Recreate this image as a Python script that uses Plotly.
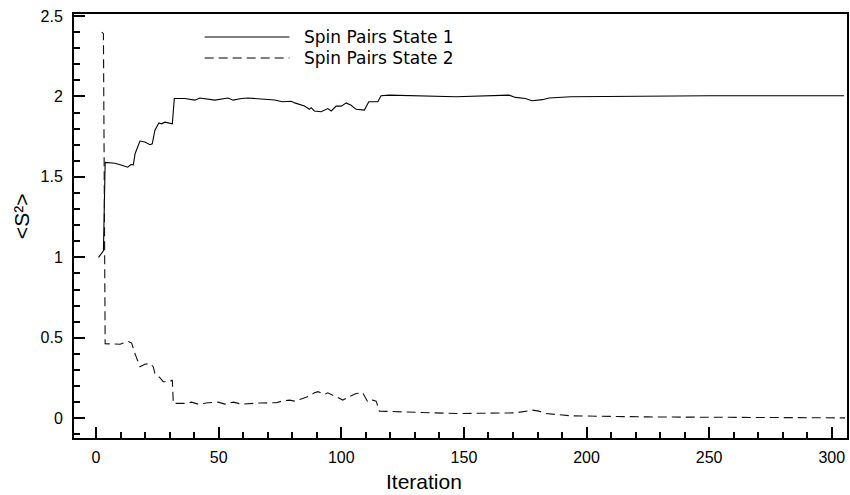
import plotly.graph_objects as go

# Series 1: Spin Pairs State 1 (solid)
iter_s1 = [1, 2, 3, 3.7, 7.7, 9.8, 11.8, 12.9, 14.2, 15.2, 15.9, 17.9, 19.9, 22, 22.9, 24,
           25.6, 26.7, 28.1, 29.7, 31.1, 31.9, 36.2, 40.3, 42.3, 48.4, 53.8, 55.9, 59.3, 62,
           66, 69, 72.8, 76, 79.6, 81, 85, 87, 87.7, 89, 91.8, 94.5, 95.9, 97.9, 100, 102,
           104, 106, 109.4, 111.2, 114.9, 116.2, 119.6, 146.7, 168.4, 171, 175, 177.8, 182,
           184.7, 193.5, 250, 305]
val_s1 = [1.0, 1.02, 1.04, 1.59, 1.585, 1.575, 1.565, 1.56, 1.577, 1.575, 1.644, 1.723,
          1.717, 1.70, 1.706, 1.79, 1.835, 1.83, 1.84, 1.835, 1.83, 1.9875, 1.9875, 1.977,
          1.99, 1.977, 1.99, 1.977, 1.9875, 1.99, 1.985, 1.98, 1.978, 1.967, 1.97, 1.96,
          1.94, 1.92, 1.93, 1.91, 1.905, 1.925, 1.91, 1.94, 1.94, 1.96, 1.945, 1.92, 1.915,
          1.967, 1.967, 2.004, 2.008, 1.998, 2.008, 1.994, 1.9875, 1.973, 1.98, 1.99, 1.998,
          2.004, 2.004]

# Series 2: Spin Pairs State 2 (dashed)
iter_s2 = [2.3, 3.0, 3.7, 9.8, 13.1, 14.5, 15.9, 17.2, 17.9, 19.9, 22, 23.3, 24, 26, 27.4,
           30.1, 31.1, 31.5, 36.2, 38.9, 41.6, 45.7, 49.8, 52.5, 55.9, 59.3, 62.7, 67, 73.5,
           76.2, 78.9, 81, 84.3, 87, 89, 90.5, 93.2, 94.5, 97.9, 100.6, 103.3, 106, 108.7,
           110.8, 112.8, 114.2, 115.5, 126.4, 133.2, 146.7, 171, 175.2, 177.9, 180.6, 183.4,
           193.5, 225, 305.4]
val_s2 = [2.40, 2.39, 0.4625, 0.46, 0.477, 0.467, 0.40, 0.342, 0.32, 0.335, 0.34, 0.32,
          0.279, 0.252, 0.227, 0.227, 0.2375, 0.092, 0.092, 0.10, 0.0875, 0.096, 0.10,
          0.0875, 0.10, 0.0875, 0.092, 0.095, 0.096, 0.108, 0.1125, 0.106, 0.123, 0.1375,
          0.158, 0.165, 0.148, 0.158, 0.133, 0.1125, 0.133, 0.154, 0.158, 0.102, 0.1125,
          0.106, 0.044, 0.04, 0.033, 0.029, 0.033, 0.044, 0.05, 0.044, 0.029, 0.015, 0.008,
          0.002]

series_names = ["Spin Pairs State 1", "Spin Pairs State 2"]
x_title = "Iteration"
y_title = "&lt;S²&gt;"

DASH = "9px,5px"
W, H = 850, 495
ML, MR, MT, MB = 74, 1, 14, 57
pw, ph = W - ML - MR, H - MT - MB

fig = go.Figure()
fig.add_trace(go.Scatter(x=iter_s1, y=val_s1, mode="lines", name=series_names[0],
                         line=dict(color="black", width=1.1)))
fig.add_trace(go.Scatter(x=iter_s2, y=val_s2, mode="lines", name=series_names[1],
                         line=dict(color="#111111", width=1.1, dash=DASH)))

axis_common = dict(showgrid=False, zeroline=False, showline=True, linecolor="black",
                   linewidth=2, mirror=True, ticks="inside", tickcolor="black",
                   tickwidth=2, ticklen=11,
                   tickfont=dict(family="Liberation Sans, Arial, sans-serif", size=16,
                                 color="black"))

fig.update_xaxes(range=[-9, 306.2], tickmode="linear", tick0=0, dtick=50,
                 minor=dict(dtick=10, ticklen=6, ticks="inside", tickcolor="black",
                            tickwidth=1.5),
                 ticklabelstandoff=4, **axis_common)
fig.update_yaxes(range=[-0.123, 2.5125], tickmode="linear", tick0=0, dtick=0.5,
                 minor=dict(dtick=0.1, ticklen=6, ticks="inside", tickcolor="black",
                            tickwidth=1.5),
                 ticklabelstandoff=6, **axis_common)

# Legend drawn manually (long sample lines as in the reference)
def px_x(p):
    return (p - ML) / pw

def px_y(p):
    return 1 - (p - MT) / ph

legend_rows = [(37, None), (58, DASH)]
for (yy, dash), name in zip(legend_rows, series_names):
    fig.add_shape(type="line", xref="paper", yref="paper",
                  x0=px_x(205), x1=px_x(290), y0=px_y(yy), y1=px_y(yy),
                  line=dict(color="black", width=1.1, dash=dash))
    fig.add_annotation(x=px_x(303), y=px_y(yy), xref="paper", yref="paper",
                       text=name, showarrow=False, xanchor="left", yanchor="middle",
                       font=dict(family="DejaVu Sans, sans-serif", size=17, color="black"))

fig.add_annotation(x=px_x(425), y=px_y(481), xref="paper", yref="paper", text=x_title,
                   showarrow=False, xanchor="center", yanchor="middle",
                   font=dict(family="Liberation Sans, Arial, sans-serif", size=21,
                             color="black"))
fig.add_annotation(x=px_x(22), y=px_y(216), xref="paper", yref="paper", text=y_title,
                   showarrow=False, textangle=-90, xanchor="center", yanchor="middle",
                   font=dict(family="Liberation Sans, Arial, sans-serif", size=21,
                             color="black"))

fig.update_layout(width=W, height=H, showlegend=False, plot_bgcolor="white",
                  paper_bgcolor="white",
                  margin=dict(l=ML, r=MR, t=MT, b=MB, pad=0))

fig.write_html("out.html")
